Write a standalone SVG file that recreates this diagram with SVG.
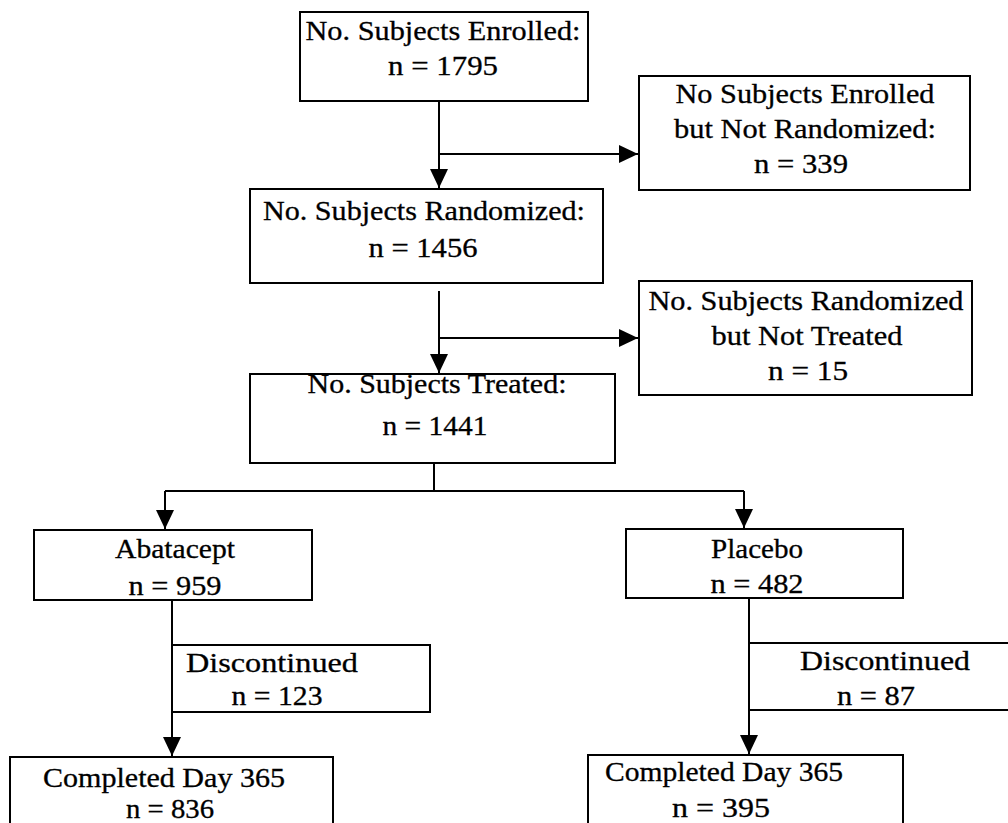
<svg xmlns="http://www.w3.org/2000/svg" width="1008" height="823" viewBox="0 0 1008 823">
  <style>
    .box { fill: #ffffff; stroke: #000000; stroke-width: 2; }
    .lbl { font-family: "Liberation Serif", "Times New Roman", serif; font-size: 27px; fill: #000000; stroke: #000000; stroke-width: 0.3; text-anchor: middle; }
    .wire { fill: none; stroke: #000000; stroke-width: 2; }
  </style>
  <defs>
    <marker id="arrow" markerUnits="userSpaceOnUse" markerWidth="20" markerHeight="20" refX="19" refY="10" orient="auto">
      <path d="M0,1 L19,10 L0,19 Z" fill="#000000"/>
    </marker>
  </defs>

  <rect width="1008" height="823" fill="#ffffff"/>

  <!-- connectors -->
  <g id="connectors">
    <path class="wire" d="M439,101 V188" marker-end="url(#arrow)"/>
    <path class="wire" d="M439,154 H638" marker-end="url(#arrow)"/>
    <path class="wire" d="M439,291 V373" marker-end="url(#arrow)"/>
    <path class="wire" d="M439,338 H638" marker-end="url(#arrow)"/>
    <path class="wire" d="M434,456 V491"/>
    <path class="wire" d="M165,491 H744"/>
    <path class="wire" d="M165,491 V529" marker-end="url(#arrow)"/>
    <path class="wire" d="M744,491 V528" marker-end="url(#arrow)"/>
    <path class="wire" d="M172,600 V756" marker-end="url(#arrow)"/>
    <path class="wire" d="M749,598 V754" marker-end="url(#arrow)"/>
  </g>

  <g id="enrolled">
    <rect class="box" x="300" y="12" width="288" height="89"/>
    <text class="lbl" x="443" y="40" textLength="275" lengthAdjust="spacingAndGlyphs">No. Subjects Enrolled:</text>
    <text class="lbl" x="443" y="75" textLength="110" lengthAdjust="spacingAndGlyphs">n = 1795</text>
  </g>

  <g id="not-randomized">
    <rect class="box" x="639" y="76" width="331" height="114"/>
    <text class="lbl" x="805" y="103" textLength="259" lengthAdjust="spacingAndGlyphs">No Subjects Enrolled</text>
    <text class="lbl" x="805" y="138" textLength="262" lengthAdjust="spacingAndGlyphs">but Not Randomized:</text>
    <text class="lbl" x="801" y="173" textLength="94" lengthAdjust="spacingAndGlyphs">n = 339</text>
  </g>

  <g id="randomized">
    <rect class="box" x="250" y="189" width="353" height="94"/>
    <text class="lbl" x="424" y="220" textLength="322" lengthAdjust="spacingAndGlyphs">No. Subjects Randomized:</text>
    <text class="lbl" x="423" y="257" textLength="109" lengthAdjust="spacingAndGlyphs">n = 1456</text>
  </g>

  <g id="not-treated">
    <rect class="box" x="639" y="281" width="333" height="114"/>
    <text class="lbl" x="806" y="310" textLength="315" lengthAdjust="spacingAndGlyphs">No. Subjects Randomized</text>
    <text class="lbl" x="807" y="345" textLength="191" lengthAdjust="spacingAndGlyphs">but Not Treated</text>
    <text class="lbl" x="808" y="380" textLength="80" lengthAdjust="spacingAndGlyphs">n = 15</text>
  </g>

  <g id="treated">
    <rect class="box" x="250" y="374" width="365" height="89"/>
    <text class="lbl" x="437" y="393" textLength="259" lengthAdjust="spacingAndGlyphs">No. Subjects Treated:</text>
    <text class="lbl" x="435" y="435" textLength="105" lengthAdjust="spacingAndGlyphs">n = 1441</text>
  </g>

  <g id="abatacept">
    <rect class="box" x="34" y="530" width="278" height="70"/>
    <text class="lbl" x="175" y="558" textLength="120" lengthAdjust="spacingAndGlyphs">Abatacept</text>
    <text class="lbl" x="175" y="595" textLength="93" lengthAdjust="spacingAndGlyphs">n = 959</text>
  </g>

  <g id="placebo">
    <rect class="box" x="626" y="529" width="277" height="69"/>
    <text class="lbl" x="757" y="558" textLength="92" lengthAdjust="spacingAndGlyphs">Placebo</text>
    <text class="lbl" x="757" y="593" textLength="93" lengthAdjust="spacingAndGlyphs">n = 482</text>
  </g>

  <g id="discontinued-abatacept">
    <rect class="box" x="172" y="645" width="258" height="67"/>
    <text class="lbl" x="272" y="672" textLength="172" lengthAdjust="spacingAndGlyphs">Discontinued</text>
    <text class="lbl" x="277" y="705" textLength="91" lengthAdjust="spacingAndGlyphs">n = 123</text>
  </g>

  <g id="discontinued-placebo">
    <rect class="box" x="749" y="643" width="270" height="67"/>
    <text class="lbl" x="885" y="670" textLength="170" lengthAdjust="spacingAndGlyphs">Discontinued</text>
    <text class="lbl" x="876" y="705" textLength="78" lengthAdjust="spacingAndGlyphs">n = 87</text>
  </g>

  <g id="completed-abatacept">
    <rect class="box" x="10" y="757" width="323" height="80"/>
    <text class="lbl" x="164" y="787" textLength="242" lengthAdjust="spacingAndGlyphs">Completed Day 365</text>
    <text class="lbl" x="170" y="818" textLength="88" lengthAdjust="spacingAndGlyphs">n = 836</text>
  </g>

  <g id="completed-placebo">
    <rect class="box" x="588" y="755" width="315" height="80"/>
    <text class="lbl" x="724" y="781" textLength="238" lengthAdjust="spacingAndGlyphs">Completed Day 365</text>
    <text class="lbl" x="721" y="817" textLength="98" lengthAdjust="spacingAndGlyphs">n = 395</text>
  </g>
</svg>
